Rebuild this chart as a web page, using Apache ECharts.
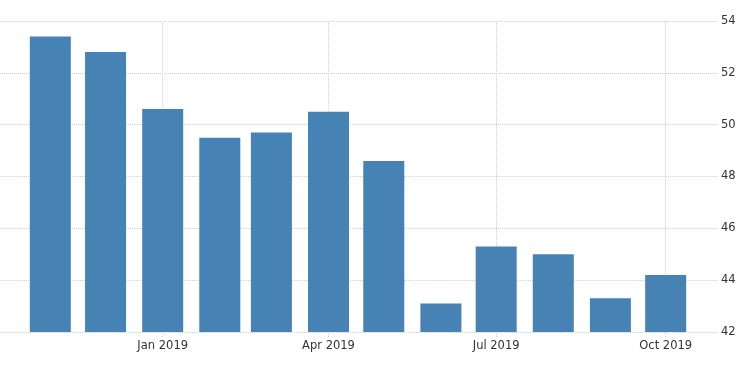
<!DOCTYPE html>
<html>
<head>
<meta charset="utf-8">
<script src="https://cdn.jsdelivr.net/npm/echarts@6/dist/echarts.min.js"></script>
<style>
html,body{margin:0;padding:0;background:#fff;}
#chart{width:750px;height:373px;}
</style>
</head>
<body>
<div id="chart"></div>
<script>
// Data
var months = ['2018-11-01','2018-12-01','2019-01-01','2019-02-01','2019-03-01','2019-04-01','2019-05-01','2019-06-01','2019-07-01','2019-08-01','2019-09-01','2019-10-01'];
var values = [53.4, 52.8, 50.6, 49.5, 49.7, 50.5, 48.6, 43.1, 45.3, 45.0, 43.3, 44.2];
var xTicks = ['2019-01-01','2019-04-01','2019-07-01','2019-10-01'];
var monthNames = ['Jan','Feb','Mar','Apr','May','Jun','Jul','Aug','Sep','Oct','Nov','Dec'];
var yMin = 42, yMax = 54, yStep = 2;

var DAY = 864e5;
function ts(s){ var p = s.split('-'); return Date.UTC(+p[0], +p[1]-1, +p[2]); }
var xMin = ts('2019-01-01') - 88.3*DAY;
var xMax = ts('2019-10-01') + 28.4*DAY;

var seriesData = months.map(function(m,i){ return [ts(m), values[i]]; });
var tickVals = xTicks.map(ts);

var FONT = 'DejaVu Sans';
var GRID = { color: '#d0d0d0', type: [1,1], width: 1 };
var chart = echarts.init(document.getElementById('chart'), null, {renderer:'canvas'});
chart.setOption({
  animation: false,
  backgroundColor: '#ffffff',
  grid: { left: 0, right: 32, top: 21, bottom: 41, containLabel: false },
  xAxis: {
    type: 'value',
    min: xMin, max: xMax,
    axisLine: { show: false },
    axisTick: { show: true, length: 6, customValues: tickVals, lineStyle: GRID },
    axisLabel: {
      customValues: tickVals,
      color: '#333333', fontFamily: FONT, fontSize: 11.5, margin: 8,
      showMinLabel: true, showMaxLabel: true,
      formatter: function(v){ var d = new Date(v); return monthNames[d.getUTCMonth()] + ' ' + d.getUTCFullYear(); }
    },
    splitLine: { show: true, lineStyle: GRID }
  },
  yAxis: {
    type: 'value', position: 'right',
    min: yMin, max: yMax, interval: yStep,
    axisLine: { show: false }, axisTick: { show: false },
    axisLabel: { color: '#333333', fontFamily: FONT, fontSize: 11.5, margin: 3 },
    splitLine: { show: true, lineStyle: GRID }
  },
  series: [{
    type: 'bar',
    data: seriesData,
    barWidth: 41,
    itemStyle: { color: '#4682b4' }
  }]
});
</script>
</body>
</html>
